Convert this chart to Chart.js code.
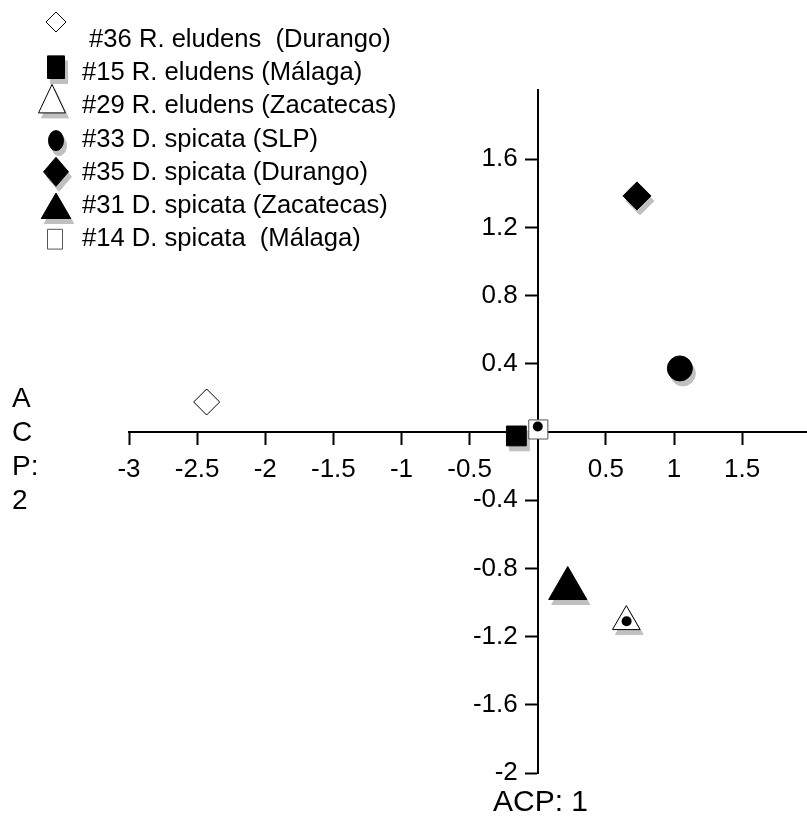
<!DOCTYPE html>
<html><head><meta charset="utf-8">
<script src="https://cdn.jsdelivr.net/npm/chart.js@4/dist/chart.umd.min.js"></script>
<style>html,body{margin:0;padding:0;background:#fff}canvas{display:block}</style>
</head><body>
<canvas id="c" width="807" height="838"></canvas>
<script>
// ---- data ----
const seriesLabels = [' #36 R. eludens  (Durango)', '#15 R. eludens (Málaga)', '#29 R. eludens (Zacatecas)', '#33 D. spicata (SLP)', '#35 D. spicata (Durango)', '#31 D. spicata (Zacatecas)', '#14 D. spicata  (Málaga)'];
const acp1 = [-2.43, -0.157, 0.650, 1.043, 0.728, 0.220, 0.004];
const acp2 = [0.176, -0.023, -1.112, 0.373, 1.385, -0.918, 0.015];
const dotX = [0.0, 0.652];
const dotY = [0.032, -1.110];
const xTicks = [-3, -2.5, -2, -1.5, -1, -0.5, 0.5, 1, 1.5];
const yTicks = [-2, -1.6, -1.2, -0.8, -0.4, 0.4, 0.8, 1.2, 1.6];
const xTitle = 'ACP: 1';
const yTitleLines = ['A', 'C', 'P:', '2'];

// ---- styles ----
const FONT = "'Liberation Sans', Arial, sans-serif";
const SHADOW = '#c0c0c0', SDX = 3, SDY = 5;
const markerStyles = [
  {style:'rectRot',  r:13, fill:'#ffffff', stroke:'#000000', bw:1, shadow:false, lr:10,  lw:20, ldx:0,  ldy:-18},
  {style:'rect',     r:14, fill:'#000000', stroke:'#000000', bw:1, shadow:true,  lr:16, lw:17, ldx:0,  ldy:-6},
  {style:'triangle', r:16, fill:'#ffffff', stroke:'#000000', bw:1, shadow:true,  lr:19, lw:31, ldx:-4, ldy:-3},
  {style:'circle',   r:12.5, fill:'#000000', stroke:'#000000', bw:1, shadow:true, lr:10, lw:15, ldx:0, ldy:1},
  {style:'rectRot',  r:14, fill:'#000000', stroke:'#000000', bw:1, shadow:true,  lr:14.5, lw:25, ldx:0, ldy:-1},
  {style:'triangle', r:22, fill:'#000000', stroke:'#000000', bw:1, shadow:true,  lr:17, lw:34, ldx:0,  ldy:4},
  {style:'rect',     r:13.5, fill:'#ffffff', stroke:'#555555', bw:1, shadow:false, lr:14, lw:15, ldx:-1, ldy:0}
];

const datasets = seriesLabels.map((lab, i) => ({
  label: lab,
  data: [{x: acp1[i], y: acp2[i]}],
  pointStyle: markerStyles[i].style,
  pointRadius: markerStyles[i].r,
  pointHoverRadius: markerStyles[i].r,
  pointBackgroundColor: markerStyles[i].fill,
  pointBorderColor: markerStyles[i].stroke,
  pointBorderWidth: markerStyles[i].bw,
  order: 1
}));
datasets.push({
  label: '',
  data: dotX.map((x, i) => ({x, y: dotY[i]})),
  pointStyle: 'circle', pointRadius: 5, pointHoverRadius: 5,
  pointBackgroundColor: '#000', pointBorderColor: '#000', pointBorderWidth: 0,
  order: 0
});

const fmt = v => String(Math.round(v * 10) / 10);

function shape(ctx, st, x, y, r, w, fill, stroke) {
  const H = Chart.helpers;
  ctx.fillStyle = fill; ctx.strokeStyle = stroke; ctx.lineWidth = st.bw;
  const o = {pointStyle: st.style, radius: r, rotation: 0, borderWidth: st.bw};
  if (w && H.drawPointLegend) H.drawPointLegend(ctx, o, x, y, w); else H.drawPoint(ctx, o, x, y);
}

// grey drop shadows under the markers, at the element positions from the scales
const shadowPlugin = {
  id: 'markerShadow',
  beforeDatasetsDraw(chart) {
    const ctx = chart.ctx;
    ctx.save();
    markerStyles.forEach((st, i) => {
      if (!st.shadow) return;
      chart.getDatasetMeta(i).data.forEach(el => shape(ctx, st, el.x + SDX, el.y + SDY, st.r, 0, SHADOW, SHADOW));
    });
    ctx.restore();
  }
};

// y tick labels: put them left of the tick marks for the centred axis
const yLabelPlugin = {
  id: 'yLabelShift',
  beforeDraw(chart, args, opts) {
    const s = chart.scales.y;
    const items = s.getLabelItems(chart.chartArea);
    items.forEach(it => {
      if (!it.$shifted) { it.options.translation[0] -= opts.offset; it.$shifted = true; }
    });
  }
};

const legendPlugin = {
  id: 'customLegend',
  afterDraw(chart, args, opts) {
    const ctx = chart.ctx;
    ctx.save();
    ctx.font = opts.fontSize + 'px ' + FONT;
    ctx.textBaseline = 'middle';
    ctx.textAlign = 'left';
    seriesLabels.forEach((lab, i) => {
      const st = markerStyles[i];
      const ty = opts.top + i * opts.step;
      const mx = opts.markerX + st.ldx, my = ty + st.ldy;
      ctx.save();
      if (st.shadow) shape(ctx, st, mx + SDX, my + SDY, st.lr, st.lw, SHADOW, SHADOW);
      shape(ctx, st, mx, my, st.lr, st.lw, st.fill, st.stroke);
      ctx.restore();
      ctx.fillStyle = '#000';
      ctx.fillText(lab, opts.textX, ty);
    });
    ctx.restore();
  }
};

const titlePlugin = {
  id: 'axisTitles',
  afterDraw(chart, args, opts) {
    const ctx = chart.ctx;
    ctx.save();
    ctx.fillStyle = '#000';
    ctx.textBaseline = 'middle';
    ctx.textAlign = 'left';
    ctx.font = opts.xFontSize + 'px ' + FONT;
    ctx.fillText(xTitle, opts.xTitleX, opts.xTitleY);
    ctx.font = opts.yFontSize + 'px ' + FONT;
    yTitleLines.forEach((t, i) => ctx.fillText(t, opts.yTitleX, opts.yTitleY + i * opts.yStep));
    ctx.restore();
  }
};

function zeroPad(s) { s.paddingLeft = 0; s.paddingRight = 0; s.paddingTop = 0; s.paddingBottom = 0; }

const tickFont = {family: FONT, size: 26};
new Chart(document.getElementById('c'), {
  type: 'scatter',
  data: {datasets},
  plugins: [shadowPlugin, yLabelPlugin, legendPlugin, titlePlugin],
  options: {
    responsive: false, animation: false, devicePixelRatio: 1,
    events: [],
    layout: {autoPadding: false, padding: {left: 129, top: 90, right: 0, bottom: 65}},
    plugins: {
      legend: {display: false}, tooltip: {enabled: false},
      yLabelShift: {offset: 20},
      customLegend: {top: 40, step: 33.2, markerX: 56, textX: 82, fontSize: 25.6},
      axisTitles: {xFontSize: 30, yFontSize: 28, xTitleX: 493, xTitleY: 803, yTitleX: 12, yTitleY: 399, yStep: 34}
    },
    scales: {
      x: {
        type: 'linear', min: -3, max: 1.976, position: {y: 0},
        afterFit(s) { s.height = 0; zeroPad(s); },
        afterBuildTicks(s) { s.ticks = xTicks.map(v => ({value: v})); },
        border: {display: true, color: '#000', width: 2},
        grid: {display: true, drawOnChartArea: false, drawTicks: true, tickLength: 12, tickWidth: 2, tickColor: '#000'},
        ticks: {color: '#000', font: tickFont, padding: 10, maxRotation: 0, autoSkip: false, callback: v => fmt(v)}
      },
      y: {
        type: 'linear', min: -2, max: 2.006, position: {x: 0},
        afterFit(s) { s.width = 0; zeroPad(s); },
        afterBuildTicks(s) { s.ticks = yTicks.map(v => ({value: v})); },
        border: {display: true, color: '#000', width: 2},
        grid: {display: true, drawOnChartArea: false, drawTicks: true, tickLength: 12, tickWidth: 2, tickColor: '#000'},
        ticks: {color: '#000', font: tickFont, padding: 3, autoSkip: false, callback: v => fmt(v)}
      }
    }
  }
});
</script>
</body></html>
